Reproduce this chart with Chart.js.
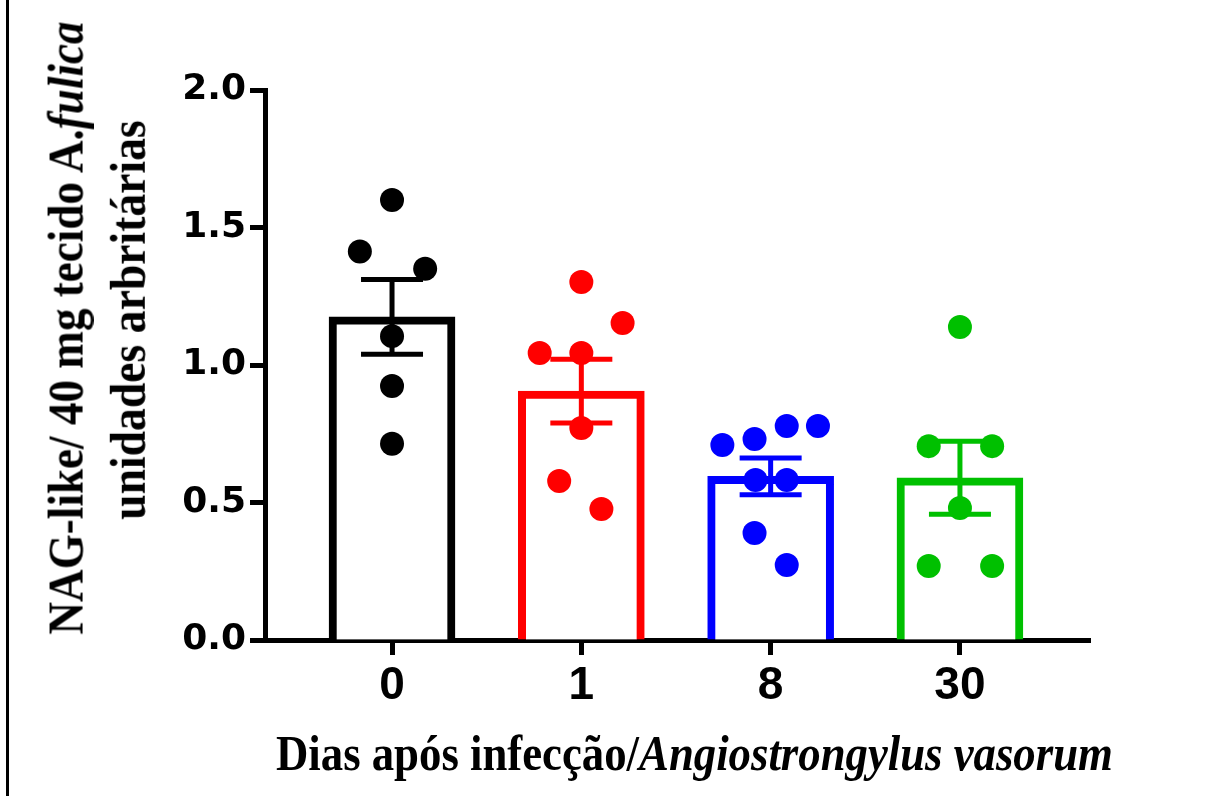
<!DOCTYPE html>
<html>
<head>
<meta charset="utf-8">
<script src="https://cdn.jsdelivr.net/npm/chart.js@4.4.1/dist/chart.umd.min.js"></script>
<style>
  html, body { margin: 0; padding: 0; background: #fff; }
  #wrap { position: relative; width: 1219px; height: 796px; overflow: hidden; }
  #edge { position: absolute; left: 6px; top: 0; width: 3px; height: 796px; background: #000; }
  .title {
    position: absolute;
    font-family: "Liberation Serif", "Times New Roman", serif;
    font-weight: bold;
    font-size: 50px;
    line-height: 50px;
    white-space: nowrap;
    color: #000;
  }
</style>
</head>
<body>
<div id="wrap">
  <div id="edge"></div>
  <canvas id="chart"></canvas>
  <div class="title" id="ytitle1">NAG-like/ 40 mg tecido A.<i>fulica</i></div>
  <div class="title" id="ytitle2">unidades arbritárias</div>
  <div class="title" id="xtitle">Dias após infecção/<i>Angiostrongylus vasorum</i></div>
</div>
<script>
// data
const categories = ["0", "1", "8", "30"];
const groupColors = ["#000000", "#ff0000", "#0000ff", "#00c000"];
const means = [1.175, 0.905, 0.595, 0.59];
const sems = [0.136, 0.116, 0.067, 0.133];

const day0 = [1.60, 1.413, 1.35, 1.105, 0.924, 0.714];
const day1 = [1.302, 1.153, 1.044, 1.044, 0.771, 0.578, 0.476];
const day8 = [0.709, 0.731, 0.778, 0.778, 0.582, 0.582, 0.389, 0.273];
const day30 = [1.138, 0.705, 0.705, 0.48, 0.269, 0.269];
const groups = [day0, day1, day8, day30];

// horizontal scatter of the dots inside each column (category units)
const spread = [
  [0, -0.17, 0.175, 0, 0, 0],
  [0, 0.218, -0.22, 0, 0, -0.117, 0.106],
  [-0.255, -0.085, 0.085, 0.25, -0.08, 0.085, -0.085, 0.085],
  [0, -0.165, 0.17, 0, -0.165, 0.17],
];

const barData = means.map((m, i) => ({ x: i, y: m }));

const dotSets = groups.map((vals, g) => ({
  type: "scatter",
  data: vals.map((v, k) => ({ x: g + spread[g][k], y: v })),
  backgroundColor: groupColors[g],
  borderColor: groupColors[g],
  pointRadius: 12,
  pointHoverRadius: 12,
  borderWidth: 0,
  order: 1,
}));

// SEM bars drawn with the chart's own scales
const errorBars = {
  id: "errorBars",
  afterDatasetsDraw(chart) {
    const { ctx, scales } = chart;
    ctx.save();
    ctx.lineWidth = 5;
    means.forEach((m, i) => {
      const x = scales.x.getPixelForValue(i);
      const yHi = scales.y.getPixelForValue(m + sems[i]);
      const yLo = scales.y.getPixelForValue(m - sems[i]);
      ctx.strokeStyle = groupColors[i];
      ctx.beginPath();
      ctx.moveTo(x, yHi);
      ctx.lineTo(x, yLo);
      ctx.moveTo(x - 31, yHi);
      ctx.lineTo(x + 31, yHi);
      ctx.moveTo(x - 31, yLo);
      ctx.lineTo(x + 31, yLo);
      ctx.stroke();
    });
    ctx.restore();
  },
};

const cfg = {
  type: "bar",
  data: {
    datasets: [
      {
        type: "bar",
        data: barData,
        backgroundColor: "#ffffff",
        borderColor: groupColors,
        borderWidth: 8,
        borderSkipped: "start",
        barThickness: 126,
        order: 2,
      },
      ...dotSets,
    ],
  },
  options: {
    responsive: false,
    animation: false,
    devicePixelRatio: 1,
    layout: { padding: { top: 90, right: 129, bottom: 0, left: 0 } },
    plugins: {
      legend: { display: false },
      tooltip: { enabled: false },
    },
    scales: {
      x: {
        type: "linear",
        min: -0.671,
        max: 3.687,
        offset: false,
        afterBuildTicks: (scale) => {
          scale.ticks = categories.map((c, i) => ({ value: i }));
        },
        afterFit: (scale) => {
          scale.height = 156;
        },
        border: { display: true, color: "#000", width: 5 },
        grid: {
          offset: false,
          drawOnChartArea: false,
          drawTicks: true,
          tickLength: 15,
          tickWidth: 5,
          tickColor: "#000",
        },
        ticks: {
          color: "#000",
          padding: 4,
          maxRotation: 0,
          autoSkip: false,
          font: { family: "'Liberation Sans Narrow', 'Liberation Sans', Arial, sans-serif", weight: "bold", size: 46 },
          callback: (val) => categories[val],
        },
      },
      y: {
        min: 0,
        max: 2,
        afterFit: (scale) => {
          scale.width = 265;
        },
        border: { display: true, color: "#000", width: 5 },
        grid: {
          drawOnChartArea: false,
          drawTicks: true,
          tickLength: 15,
          tickWidth: 5,
          tickColor: "#000",
        },
        ticks: {
          stepSize: 0.5,
          color: "#000",
          padding: 4,
          font: { family: "'DejaVu Sans', sans-serif", weight: "bold", size: 36 },
          callback: (val) => val.toFixed(1),
        },
      },
    },
  },
  plugins: [errorBars],
};

const canvas = document.getElementById("chart");
canvas.width = 1219;
canvas.height = 796;
canvas.style.width = "1219px";
canvas.style.height = "796px";
new Chart(canvas, cfg);

// squeeze the serif titles to the width they have in the figure
function placeTitle(id, cx, cy, targetWidth, rotate) {
  const el = document.getElementById(id);
  const k = targetWidth / el.offsetWidth;
  el.style.left = cx - el.offsetWidth / 2 + "px";
  el.style.top = cy - el.offsetHeight / 2 + "px";
  el.style.transform = (rotate ? "rotate(-90deg) " : "") + "scaleX(" + k + ")";
}
placeTitle("xtitle", 694, 753, 837, false);
placeTitle("ytitle1", 65, 328, 613, true);
placeTitle("ytitle2", 128, 320, 400, true);
</script>
</body>
</html>
